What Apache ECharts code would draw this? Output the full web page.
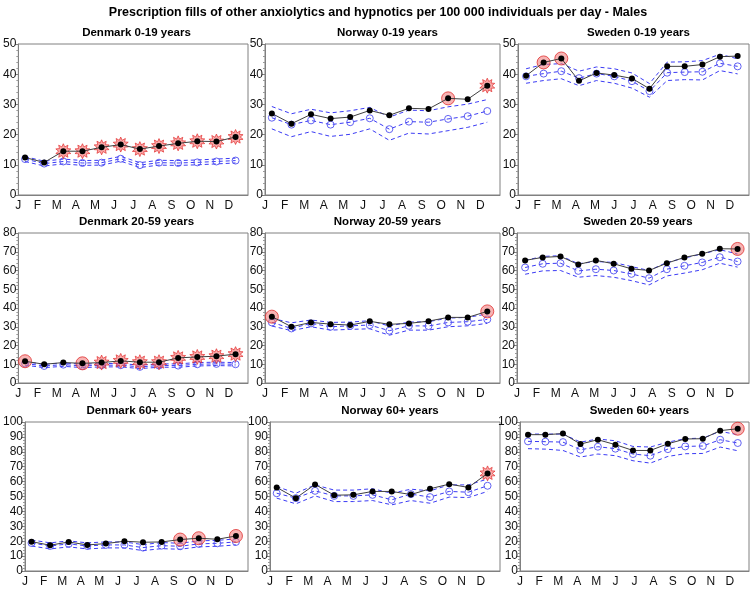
<!DOCTYPE html>
<html><head><meta charset="utf-8">
<script src="https://cdn.jsdelivr.net/npm/echarts@6/dist/echarts.min.js"></script>
<style>html,body{margin:0;padding:0;background:#fff}#c{width:756px;height:590px}</style>
</head><body><div id="c"></div>
<script>
// ---------- DATA ----------
const mainTitle = 'Prescription fills of other anxiolytics and hypnotics per 100 000 individuals per day - Males';
const monthLabels = ['J','F','M','A','M','J','J','A','S','O','N','D'];
// time of each data point, in months since 1 January
const monthlyX = [0.35,1.35,2.35,3.35,4.35,5.35,6.35,7.35,8.35,9.35,10.35,11.35];
const fourWeekX = [0.42,1.33,2.25,3.17,4.08,5.00,5.92,6.83,7.75,8.66,9.58,10.49,11.41];

// Denmark 0-19
const dk0Obs = [12.4,10.8,14.5,14.5,15.8,16.7,15.2,16.2,17.1,17.8,17.7,19.2];
const dk0Exp = [11.9,10.4,11.1,10.6,10.7,12.0,9.9,10.7,10.6,10.8,11.1,11.4];
const dk0Up  = [12.7,11.2,11.9,11.4,11.5,12.8,10.7,11.5,11.4,11.6,11.9,12.2];
const dk0Lo  = [11.1,9.6,10.3,9.8,9.9,11.2,9.1,9.9,9.8,10.0,10.3,10.6];
const dk0Star = [2,3,4,5,6,7,8,9,10,11];
const dk0Circle = [];

// Norway 0-19
const no0Obs = [27.0,23.6,26.7,25.3,25.8,28.0,26.4,28.7,28.5,32.0,31.7,36.2];
const no0Exp = [25.6,23.3,24.7,23.3,24.1,25.4,21.8,24.3,24.1,25.2,26.1,27.8];
const no0Up  = [29.3,26.9,28.4,27.2,27.9,29.0,25.8,28.1,27.9,29.2,30.1,31.6];
const no0Lo  = [21.9,19.3,21.0,19.4,20.1,21.9,18.1,20.5,20.2,21.3,22.4,24.1];
const no0Star = [11];
const no0Circle = [9];

// Sweden 0-19 (13 four-week periods)
const se0Obs = [39.5,43.9,45.2,37.8,40.4,39.7,38.6,35.2,42.6,42.6,43.2,45.8,46.0];
const se0Exp = [39.3,40.2,41.0,38.7,40.2,39.3,37.7,34.4,40.5,40.7,40.8,43.6,42.6];
const se0Up  = [41.8,43.2,43.5,41.0,42.4,41.8,40.4,36.9,44.0,44.1,44.5,46.6,45.1];
const se0Lo  = [37.0,37.9,38.5,36.2,37.9,37.0,35.4,32.4,37.9,38.2,38.1,41.2,40.1];
const se0Star = [];
const se0Circle = [1,2];

// Denmark 20-59
const dk20Obs = [11.6,10.0,10.9,10.5,10.9,11.8,11.1,11.1,13.4,13.9,14.3,15.4];
const dk20Exp = [10.4,9.1,9.8,9.1,9.5,9.5,8.6,9.3,9.3,10.0,10.2,10.0];
const dk20Up  = [11.3,10.0,10.7,10.0,10.4,10.4,9.5,10.2,10.2,10.9,11.1,10.9];
const dk20Lo  = [9.5,8.2,8.9,8.2,8.6,8.6,7.7,8.4,8.4,9.1,9.3,9.1];
const dk20Star = [4,5,6,7,8,9,10,11];
const dk20Circle = [0,3];

// Norway 20-59
const no20Obs = [35.4,30.0,32.3,31.4,30.9,32.9,31.3,31.8,33.0,35.0,35.0,38.2];
const no20Exp = [32.3,29.1,31.8,30.0,30.5,30.9,27.9,30.5,30.4,32.3,32.7,33.9];
const no20Up  = [34.5,32.1,33.6,32.3,32.5,33.2,30.4,32.5,32.7,34.6,35.0,36.8];
const no20Lo  = [30.4,27.9,30.0,28.2,28.6,28.9,25.5,28.2,28.2,30.0,30.5,31.8];
const no20Star = [];
const no20Circle = [0,11];

// Sweden 20-59
const se20Obs = [65.4,67.0,67.5,63.2,65.4,63.6,60.9,60.0,63.9,67.0,68.9,71.6,71.5];
const se20Exp = [61.6,63.6,63.9,59.8,60.7,60.0,58.2,55.9,60.7,62.5,64.3,67.1,64.8];
const se20Up  = [65.4,67.5,67.9,63.6,64.8,64.3,62.1,60.0,64.3,66.6,68.9,71.1,68.8];
const se20Lo  = [58.0,59.8,60.0,56.4,57.3,56.4,54.6,52.3,57.1,58.6,60.4,63.9,61.8];
const se20Star = [];
const se20Circle = [12];

// Denmark 60+
const dk60Obs = [19.7,17.3,19.5,17.5,18.4,20.0,19.3,19.5,21.1,22.0,21.3,23.5];
const dk60Exp = [18.8,16.8,18.2,16.8,17.5,17.5,15.7,17.0,16.6,18.2,18.6,19.5];
const dk60Up  = [20.8,18.9,20.2,18.9,19.5,19.5,17.7,19.1,18.6,20.2,20.6,21.5];
const dk60Lo  = [16.8,14.8,16.2,14.8,15.5,15.5,13.7,15.0,14.6,16.2,16.6,17.5];
const dk60Star = [];
const dk60Circle = [8,9,11];

// Norway 60+
const no60Obs = [56.1,48.9,58.1,50.9,51.1,53.4,53.4,51.3,55.2,58.3,56.1,65.5];
const no60Exp = [52.2,48.9,53.8,50.4,50.4,51.1,47.8,51.6,49.6,53.4,52.9,57.2];
const no60Up  = [56.7,52.2,57.8,54.3,54.3,55.2,52.2,54.9,53.8,57.8,57.8,61.7];
const no60Lo  = [48.9,45.1,50.4,46.6,46.6,47.3,44.4,47.3,45.5,49.6,49.3,53.4];
const no60Star = [11];
const no60Circle = [];

// Sweden 60+
const se60Obs = [91.5,91.5,92.2,85.2,88.1,84.8,80.9,80.9,85.4,88.6,88.8,94.2,95.5];
const se60Exp = [87.0,86.8,86.5,81.4,83.4,82.1,78.5,77.4,81.8,83.6,83.9,88.1,85.9];
const se60Up  = [91.9,91.9,91.9,86.5,88.6,87.4,83.6,83.2,86.5,88.8,89.2,93.7,91.5];
const se60Lo  = [82.1,81.8,80.9,76.5,78.5,77.4,74.0,72.4,76.9,78.7,78.9,83.2,80.7];
const se60Star = [];
const se60Circle = [12];

const panelTitles = ['Denmark 0-19 years','Norway 0-19 years','Sweden 0-19 years',
  'Denmark 20-59 years','Norway 20-59 years','Sweden 20-59 years',
  'Denmark 60+ years','Norway 60+ years','Sweden 60+ years'];
const yMaxByRow = [50, 80, 100];

// ---------- LAYOUT ----------
const panels = [
  {x: monthlyX, o: dk0Obs, e: dk0Exp, u: dk0Up, l: dk0Lo, s: dk0Star, c: dk0Circle},
  {x: monthlyX, o: no0Obs, e: no0Exp, u: no0Up, l: no0Lo, s: no0Star, c: no0Circle},
  {x: fourWeekX, o: se0Obs, e: se0Exp, u: se0Up, l: se0Lo, s: se0Star, c: se0Circle},
  {x: monthlyX, o: dk20Obs, e: dk20Exp, u: dk20Up, l: dk20Lo, s: dk20Star, c: dk20Circle},
  {x: monthlyX, o: no20Obs, e: no20Exp, u: no20Up, l: no20Lo, s: no20Star, c: no20Circle},
  {x: fourWeekX, o: se20Obs, e: se20Exp, u: se20Up, l: se20Lo, s: se20Star, c: se20Circle},
  {x: monthlyX, o: dk60Obs, e: dk60Exp, u: dk60Up, l: dk60Lo, s: dk60Star, c: dk60Circle},
  {x: monthlyX, o: no60Obs, e: no60Exp, u: no60Up, l: no60Lo, s: no60Star, c: no60Circle},
  {x: fourWeekX, o: se60Obs, e: se60Exp, u: se60Up, l: se60Lo, s: se60Star, c: se60Circle}
];
const rowTop = [44, 233, 422];
const rowH = [151, 150, 149];
const colLeft = [[15,265,518],[15,265,517],[20,270,520]];
const colRight = [248, 500, 749];

// starburst symbol
function starPath(n, r1, r2) {
  let p = '';
  for (let i = 0; i < 2 * n; i++) {
    const r = i % 2 === 0 ? r1 : r2;
    const a = Math.PI * i / n - Math.PI / 2;
    p += (i === 0 ? 'M' : 'L') + (r * Math.cos(a)).toFixed(3) + ' ' + (r * Math.sin(a)).toFixed(3);
  }
  return 'path://' + p + 'Z';
}
const STAR = starPath(10, 10, 6);

const FONT = 'Liberation Sans, Arial, sans-serif';
const BLUE = '#3b3bf5';
const grid = [], xAxis = [], yAxis = [], series = [], title = [];
title.push({text: mainTitle, left: 'center', top: 1,
  textStyle: {fontFamily: FONT, fontSize: 12.5, fontWeight: 'bold', color: '#000'}});

panels.forEach((p, i) => {
  const r = Math.floor(i / 3), c = i % 3;
  const left = colLeft[r][c], right = colRight[c];
  grid.push({left: left, top: rowTop[r], width: right - left, height: rowH[r],
    show: true, borderColor: '#808080', borderWidth: 1, backgroundColor: '#fff'});
  title.push({text: panelTitles[i], left: (left + right) / 2, top: rowTop[r] - 22, textAlign: 'center',
    textStyle: {fontFamily: FONT, fontSize: 11.5, fontWeight: 'bold', color: '#000'}});
  xAxis.push({type: 'value', gridIndex: i, min: 0, max: 12, interval: 1,
    axisLine: {show: true, onZero: false, lineStyle: {color: '#808080'}},
    axisTick: {show: false}, splitLine: {show: false},
    axisLabel: {formatter: v => monthLabels[v] || '', fontFamily: FONT, fontSize: 12, color: '#111', margin: 5}});
  yAxis.push({type: 'value', gridIndex: i, min: 0, max: yMaxByRow[r], interval: 10,
    axisLine: {show: true, lineStyle: {color: '#808080'}},
    axisTick: {show: true, length: 3, lineStyle: {color: '#808080'}},
    minorTick: {show: true, splitNumber: 5, length: 2, lineStyle: {color: '#999'}},
    splitLine: {show: false},
    axisLabel: {fontFamily: FONT, fontSize: 12, color: '#111', margin: 2}});
  const pts = arr => arr.map((v, k) => [p.x[k], v]);
  const dashed = {type: [4, 3], width: 1, color: BLUE};
  series.push({type: 'line', xAxisIndex: i, yAxisIndex: i, data: pts(p.u), symbol: 'none',
    lineStyle: dashed, z: 2, silent: true});
  series.push({type: 'line', xAxisIndex: i, yAxisIndex: i, data: pts(p.l), symbol: 'none',
    lineStyle: dashed, z: 2, silent: true});
  series.push({type: 'line', xAxisIndex: i, yAxisIndex: i, data: pts(p.e), symbol: 'circle', symbolSize: 7,
    showAllSymbol: true, itemStyle: {color: 'rgba(255,255,255,0)', borderColor: '#5050f0', borderWidth: 0.9},
    lineStyle: dashed, z: 3, silent: true});
  series.push({type: 'scatter', xAxisIndex: i, yAxisIndex: i, data: p.s.map(k => [p.x[k], p.o[k]]),
    symbol: STAR, symbolSize: 15,
    itemStyle: {color: 'rgba(245,110,110,0.75)', borderColor: '#e02020', borderWidth: 0.8}, z: 4, silent: true});
  series.push({type: 'scatter', xAxisIndex: i, yAxisIndex: i, data: p.c.map(k => [p.x[k], p.o[k]]),
    symbol: 'circle', symbolSize: 13,
    itemStyle: {color: 'rgba(240,120,120,0.7)', borderColor: '#e03030', borderWidth: 1}, z: 4, silent: true});
  series.push({type: 'line', xAxisIndex: i, yAxisIndex: i, data: pts(p.o), symbol: 'circle', symbolSize: 6,
    showAllSymbol: true, itemStyle: {color: '#000'}, lineStyle: {color: '#404040', width: 1}, z: 5, silent: true});
});

const chart = echarts.init(document.getElementById('c'), null, {renderer: 'canvas'});
chart.setOption({animation: false, backgroundColor: '#fff', title, grid, xAxis, yAxis, series});
</script></body></html>
